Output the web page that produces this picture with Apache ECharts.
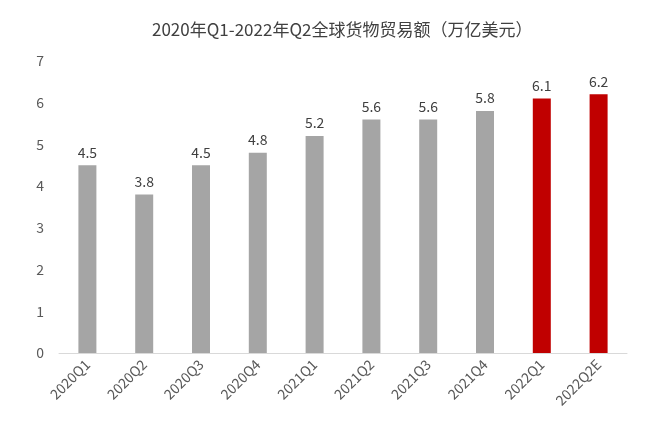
<!DOCTYPE html>
<html>
<head>
    <meta charset="utf-8">
    <title>全球货物贸易额</title>
    <script src="https://cdn.jsdelivr.net/npm/echarts@6/dist/echarts.min.js"></script>
    <style>
        html, body { margin: 0; padding: 0; background: #fff; }
    </style>
</head>
<body>
    <div id="main" style="width: 660px;height:436px;"></div>
    <script type="text/javascript">
        // 数据
        var quarters = ['2020Q1', '2020Q2', '2020Q3', '2020Q4', '2021Q1', '2021Q2', '2021Q3', '2021Q4', '2022Q1', '2022Q2E'];
        var tradeValues = [4.5, 3.8, 4.5, 4.8, 5.2, 5.6, 5.6, 5.8, 6.1, 6.2];
        var highlightFrom = 8; // 2022年起标红
        var yTicks = [0, 1, 2, 3, 4, 5, 6, 7];

        var font = '"Noto Sans CJK SC", "Noto Sans", sans-serif';

        var myChart = echarts.init(document.getElementById('main'));

        var barData = tradeValues.map(function (v, i) {
            return {
                value: v,
                itemStyle: { color: i >= highlightFrom ? '#c00000' : '#a5a5a5' }
            };
        });

        var option = {
            animation: false,
            title: {
                text: '2020年Q1-2022年Q2全球货物贸易额（万亿美元）',
                left: 147,
                top: 16,
                textStyle: {
                    fontFamily: font,
                    fontSize: 17,
                    fontWeight: 'normal',
                    color: '#404040'
                }
            },
            grid: {
                left: 59,
                right: 33,
                top: 61,
                bottom: 83
            },
            xAxis: {
                type: 'category',
                data: quarters,
                axisLine: { lineStyle: { color: '#d9d9d9' } },
                axisTick: { show: false },
                axisLabel: {
                    rotate: 45,
                    interval: 0,
                    margin: 9,
                    fontFamily: font,
                    fontSize: 14,
                    color: '#595959'
                }
            },
            yAxis: {
                type: 'value',
                min: yTicks[0],
                max: yTicks[yTicks.length - 1],
                interval: 1,
                splitLine: { show: false },
                axisLine: { show: false },
                axisTick: { show: false },
                axisLabel: {
                    margin: 15,
                    fontFamily: font,
                    fontSize: 14,
                    color: '#595959'
                }
            },
            series: [{
                type: 'bar',
                data: barData,
                barWidth: 18,
                label: {
                    show: true,
                    position: 'top',
                    distance: 6,
                    formatter: function (p) { return p.value.toFixed(1); },
                    fontFamily: font,
                    fontSize: 14,
                    color: '#404040'
                }
            }]
        };

        myChart.setOption(option);
    </script>
</body>
</html>
